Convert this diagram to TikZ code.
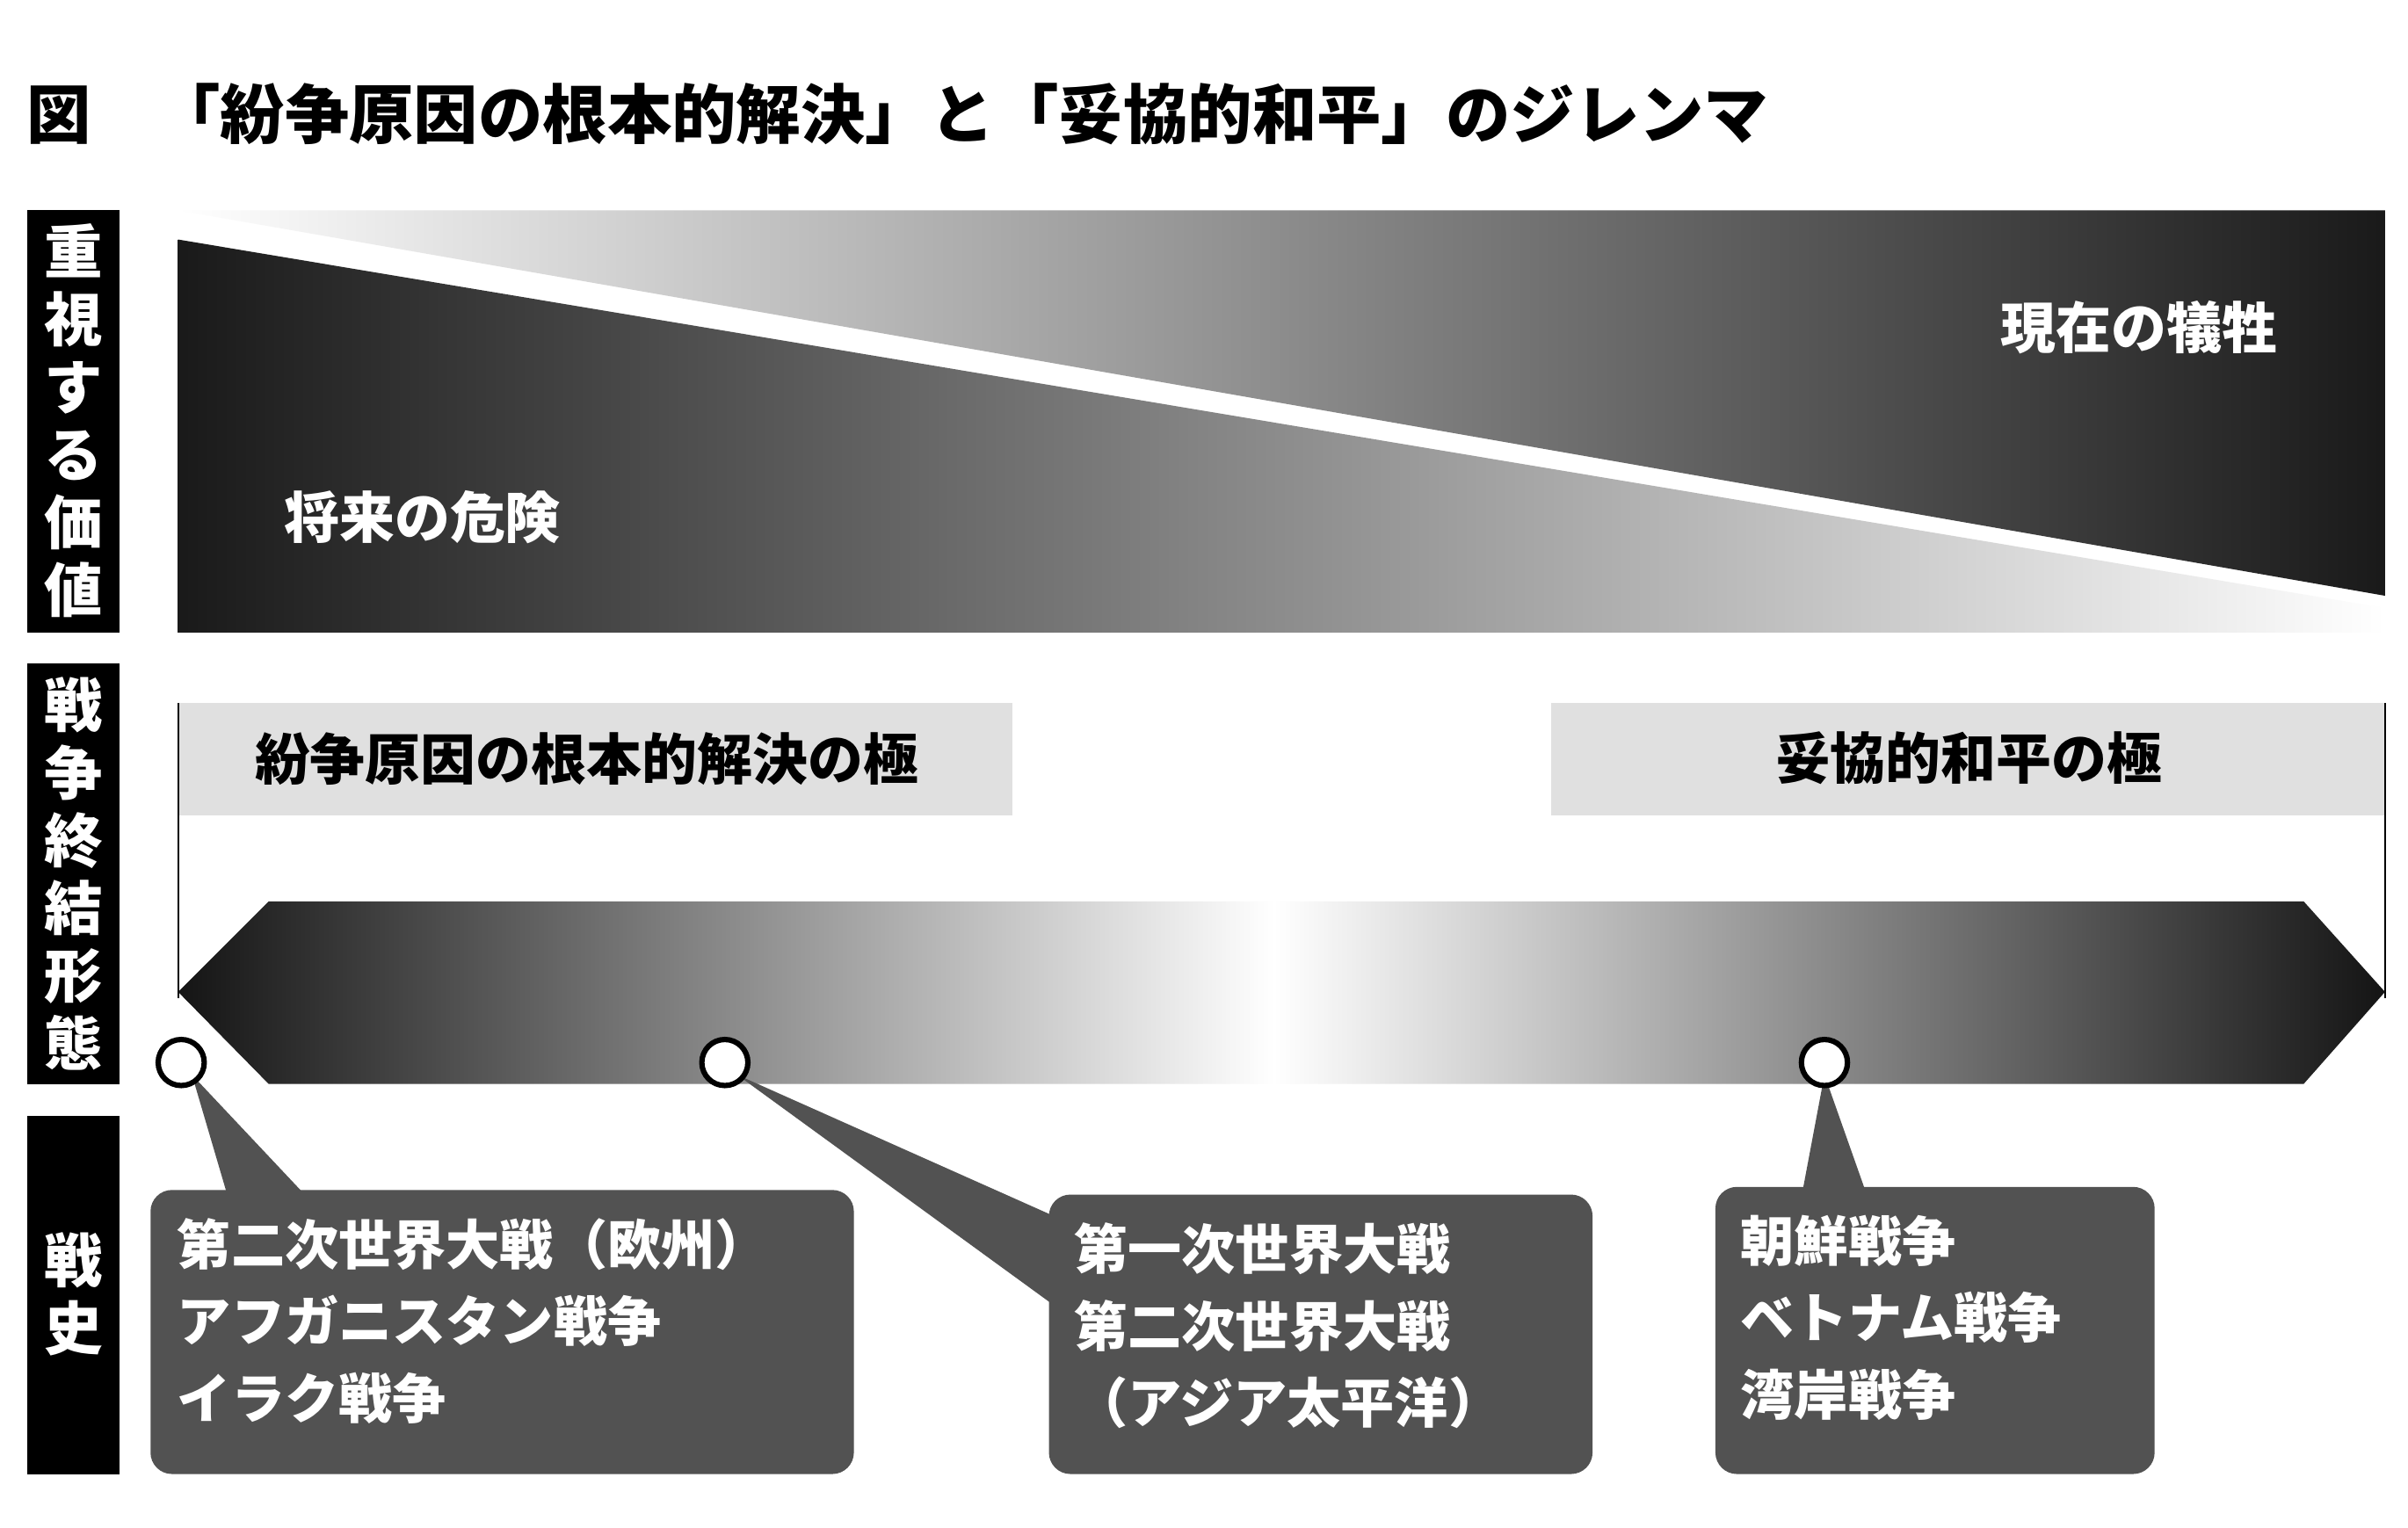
\documentclass[tikz,border=0pt]{standalone}
\usepackage{fontspec}
\newfontfamily\jp{Noto Sans CJK JP}
\begin{document}
\begin{tikzpicture}[x=1pt,y=-1pt,
  lbar/.style={fill=black},
  ltext/.style={text=white,font=\jp\bfseries\fontsize{38}{44}\selectfont,align=center,text width=40pt},
  btext/.style={text=white,font=\jp\bfseries\fontsize{35}{50}\selectfont,align=left,anchor=north west},
  gbox/.style={fill=black!12},
  cbox/.style={fill=black!68,rounded corners=14pt},
  ring/.style={circle,draw=black,line width=3.5pt,fill=white,minimum size=30pt,inner sep=0pt}]
\useasboundingbox (0,0) rectangle (1568,995);
\fill[white] (0,0) rectangle (1568,995);
\node[anchor=west,font=\jp\bfseries\fontsize{42}{46}\selectfont] (title) at (14,74) {図　「紛争原因の根本的解決」と「妥協的和平」のジレンマ};
% left bars
\fill[lbar] (18,137) rectangle (78,412);
\fill[lbar] (18,432) rectangle (78,706);
\fill[lbar] (18,727) rectangle (78,960);
\node[ltext] (v1) at (48,274) {重\\視\\す\\る\\価\\値};
\node[ltext] (v2) at (48,569) {戦\\争\\終\\結\\形\\態};
\node[ltext] (v3) at (48,843) {戦\\史};
% top gradient
\shade[left color=white,right color=black!90] (116,137) -- (1553,137) -- (1553,388) -- cycle;
\shade[left color=black!90,right color=white] (116,156) -- (1553,396) -- (1553,412) -- (116,412) -- cycle;
\node[text=white,font=\jp\bfseries\fontsize{36}{40}\selectfont] (now) at (1393,213) {現在の犠牲};
\node[text=white,font=\jp\bfseries\fontsize{36}{40}\selectfont] (fut) at (275,337) {将来の危険};
% gray boxes
\fill[gbox] (116,458) rectangle (659,531);
\fill[gbox] (1010,458) rectangle (1553,531);
\node[font=\jp\bfseries\fontsize{36}{40}\selectfont] (p1) at (382,494) {紛争原因の根本的解決の極};
\node[font=\jp\bfseries\fontsize{36}{40}\selectfont] (p2) at (1282,494) {妥協的和平の極};
\draw[line width=1.2pt] (116,458) -- (116,650);
\draw[line width=1.2pt] (1553,458) -- (1553,650);
% arrow band
\begin{scope}
\clip (116,646) -- (175,587) -- (1500,587) -- (1553,646) -- (1500,706) -- (175,706) -- cycle;
\shade[left color=black!92,right color=white] (116,587) rectangle (830,706);
\shade[left color=white,right color=black!92] (829,587) rectangle (1553,706);
\end{scope}
% callouts
\fill[cbox] (98,775) rectangle (556,960);
\fill[cbox] (683,778) rectangle (1037,960);
\fill[cbox] (1117,773) rectangle (1403,960);
\fill[black!68] (125,700) -- (150,785) -- (205,785) -- cycle;
\fill[black!68] (480,700) -- (693,795) -- (693,855) -- cycle;
\fill[black!68] (1188,700) -- (1172,785) -- (1218,785) -- cycle;
\node[ring] (c1) at (118,692) {};
\node[ring] (c2) at (472,692) {};
\node[ring] (c3) at (1188,692) {};
\node[btext] (t1) at (112,790) {第二次世界大戦（欧州）\\アフガニスタン戦争\\イラク戦争};
\node[btext] (t2) at (696,793) {第一次世界大戦\\第二次世界大戦\\（アジア太平洋）};
\node[btext] (t3) at (1130,788) {朝鮮戦争\\ベトナム戦争\\湾岸戦争};
\end{tikzpicture}
\end{document}
